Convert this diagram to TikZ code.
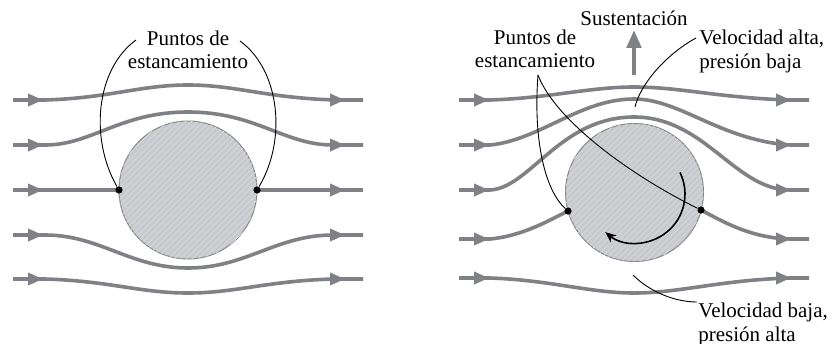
\documentclass[tikz,border=0pt]{standalone}
\usepackage{fontspec}
\setmainfont{Liberation Serif}
\usepackage{tikz}
\usetikzlibrary{arrows.meta,decorations.markings,patterns}
\definecolor{streamgray}{RGB}{128,129,133}
\definecolor{cylfill}{RGB}{200,201,204}
\definecolor{cylhatch}{RGB}{214,215,218}
\definecolor{cyledge}{RGB}{135,136,139}

\begin{document}
\begin{tikzpicture}[x=0.5pt, y=-0.5pt,
  flow/.style={color=streamgray, line width=1.8pt, postaction={decorate},
    decoration={markings,
      mark=at position 15pt with {\arrow{Triangle[length=7.5pt,width=6pt]}},
      mark=at position -9pt with {\arrow{Triangle[length=7.5pt,width=6pt]}}}},
  cyl/.style={circle, draw=cyledge, line width=0.5pt, fill=cylfill, minimum size=69pt, inner sep=0pt,
    postaction={pattern=north east lines, pattern color=cylhatch}},
  dot/.style={circle, fill=black, minimum size=3.6pt, inner sep=0pt},
  lead/.style={draw=black, line width=0.45pt},
  lbl/.style={font=\fontsize{10.5}{11.8}\selectfont, align=center, inner sep=0pt},
  lift/.style={-{Triangle[length=9pt,width=7pt]}, line width=2.4pt, draw=streamgray},
  rot/.style={-{Stealth[length=5.5pt,width=4.5pt]}, line width=0.8pt, draw=black}
]
\useasboundingbox (0,0) rectangle (835,343);

% streamlines, no rotation
\draw[flow] (13,100) -- (45,100) .. controls (110,98) and (140,85) .. (188,85) .. controls (236,85) and (266,98) .. (336,100) -- (363,100);
\draw[flow] (13,145) -- (45,145) .. controls (92,145) and (120,112) .. (188,112) .. controls (256,112) and (284,145) .. (333,145) -- (363,145);
\draw[flow] (13,190) -- (363,190);
\draw[flow] (13,235) -- (45,235) .. controls (100,235) and (130,268) .. (188,268) .. controls (246,268) and (276,235) .. (333,235) -- (363,235);
\draw[flow] (13,279) -- (45,279) .. controls (110,281) and (140,293) .. (188,293) .. controls (236,293) and (266,281) .. (333,279) -- (363,279);

% streamlines, with rotation
\draw[flow] (459,100) -- (490,100) .. controls (550,98) and (590,87) .. (634,87) .. controls (680,87) and (720,98) .. (790,100) -- (809,100);
\draw[flow] (459,145) -- (490,145) .. controls (540,140) and (580,99) .. (634,99) .. controls (680,99) and (720,140) .. (790,145) -- (809,145);
\draw[flow] (459,190) -- (490,190) .. controls (530,188) and (560,117) .. (634,117) .. controls (705,117) and (735,190) .. (790,190) -- (809,190);
\draw[flow] (459,239) -- (490,239) .. controls (522,236) and (548,221) .. (568,211) -- (701,210) .. controls (722,221) and (750,238) .. (790,239) -- (809,239);
\draw[flow] (459,278) -- (490,278) .. controls (550,280) and (590,293) .. (634,293) .. controls (680,293) and (720,280) .. (790,278) -- (809,278);

% cylinders
\node[cyl] (cylL) at (188,190) {};
\node[cyl] (cylR) at (634.5,192.5) {};

% stagnation points
\node[dot] (stL1) at (119,190) {};
\node[dot] (stL2) at (257,190) {};
\node[dot] (stR1) at (568,211) {};
\node[dot] (stR2) at (701,210) {};

% labels
\node[lbl] (ptsL) at (188,50) {Puntos de\\estancamiento};
\node[lbl] (ptsR) at (535,49) {Puntos de\\estancamiento};
\node[lbl, inner sep=2pt] (sust) at (634,18) {Sustentación};
\node[lbl, align=left, anchor=west] (valta) at (699,51.6) {Velocidad alta,\\presión baja};
\node[lbl, align=left, anchor=west] (vbaja) at (698,324.6) {Velocidad baja,\\presión alta};

\coordinate (lpL1) at (136,40);
\coordinate (lpL2) at (240,41);
\coordinate (lpR) at (538,75);
\coordinate (lva) at (696,38);
\coordinate (hivel) at (635,107);
\coordinate (lvb) at (697,302);
\coordinate (lovel) at (633,275);
\coordinate (liftfoot) at (634,75);

% leaders
\draw[lead] (lpL1) .. controls (95,70) and (90,140) .. (stL1);
\draw[lead] (lpL2) .. controls (280,70) and (287,140) .. (stL2);
\draw[lead] (lpR) .. controls (533,140) and (545,190) .. (stR1);
\draw[lead] (lpR) .. controls (555,120) and (630,175) .. (stR2);
\draw[lead] (lva) .. controls (665,55) and (640,85) .. (hivel);
\draw[lead] (lvb) .. controls (675,302) and (650,292) .. (lovel);

% lift and rotation
\draw[lift] (liftfoot) -- (sust);
\draw[rot] (680,172.5) .. controls (690.1,193.2) and (684.5,218) .. (666.5,232.3) .. controls (648.5,246.6) and (623.1,246.6) .. (605.2,232.1);
\end{tikzpicture}
\end{document}
